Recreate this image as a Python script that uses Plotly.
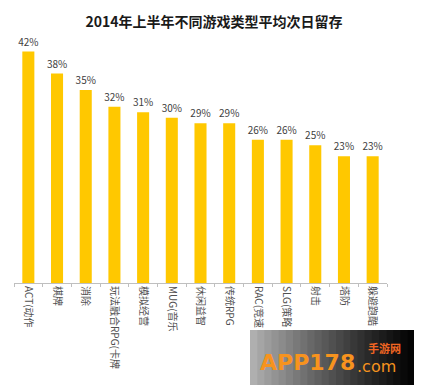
import plotly.graph_objects as go

categories = ["ACT(动作", "棋牌", "消除", "玩法融合RPG(卡牌", "模拟经营", "MUG(音乐",
              "休闲益智", "传统RPG", "RAC(竞速", "SLG(策略", "射击", "塔防", "躲避跑酷"]
values = [42, 38, 35, 32, 31, 30, 29, 29, 26, 26, 25, 23, 23]
value_labels = [f"{v}%" for v in values]

FONT = "Noto Sans CJK SC"

# page body has an 8px margin, so the figure is drawn 8px smaller and coords shifted
OFF = 8
W, H = 422 - OFF, 385 - OFF
L, R, T, B = 14 - OFF, 387 - OFF, 35 - OFF, 283 - OFF

def px(x):
    return (x - OFF - L) / (R - L)

def py(y):
    return (B - (y - OFF)) / (B - T)

fig = go.Figure(go.Bar(
    x=categories, y=values,
    marker=dict(color="#FFC800", line=dict(width=0)),
    width=0.42,
    text=value_labels, textposition="outside",
    textfont=dict(size=10, color="#404040", family=FONT),
    constraintext="none",
    cliponaxis=False,
))

shapes = []
n = 24
x0, x1 = 250, 422
for i in range(n):
    a = x0 + (x1 - x0) * i / n
    b = x0 + (x1 - x0) * (i + 1) / n
    g = int(175 * (1 - i / (n - 1)) ** 1.2)
    shapes.append(dict(type="rect", xref="paper", yref="paper",
                       x0=px(a), x1=px(b) + 0.002, y0=py(385), y1=py(330),
                       fillcolor=f"rgb({g},{g},{g})", line=dict(width=0), layer="above"))

fig.update_layout(
    width=W, height=H,
    margin=dict(l=L, r=W - R, t=T, b=H - B, autoexpand=False),
    paper_bgcolor="white", plot_bgcolor="white",
    showlegend=False,
    title=dict(text="<b>2014年上半年不同游戏类型平均次日留存</b>", x=px(214), xanchor="center",
               xref="paper", y=1 - (22 - OFF) / H, yanchor="middle",
               font=dict(size=14, color="#1a1a1a", family=FONT)),
    xaxis=dict(tickangle=90, tickfont=dict(size=10, color="#505050", family=FONT),
               showline=True, linecolor="#bfbfbf", linewidth=1,
               ticks="outside", ticklen=3, tickcolor="#bfbfbf", tickson="boundaries",
               range=[-0.5, 12.5], showgrid=False, fixedrange=True, automargin=False),
    yaxis=dict(range=[0, 45], visible=False, showgrid=False, fixedrange=True, automargin=False),
    shapes=shapes,
    annotations=[
        dict(text="<b>APP178</b>", xref="paper", yref="paper", x=px(258), y=py(362),
             xanchor="left", yanchor="middle", showarrow=False,
             font=dict(size=22, color="#F7931E", family="DejaVu Sans")),
        dict(text=".com", xref="paper", yref="paper", x=px(355), y=py(366),
             xanchor="left", yanchor="middle", showarrow=False,
             font=dict(size=16, color="#F7931E", family="DejaVu Sans")),
        dict(text="<b>手游网</b>", xref="paper", yref="paper", x=px(366), y=py(348),
             xanchor="left", yanchor="middle", showarrow=False,
             font=dict(size=11, color="#F26522", family=FONT)),
    ],
)

fig.write_html("out.html")
